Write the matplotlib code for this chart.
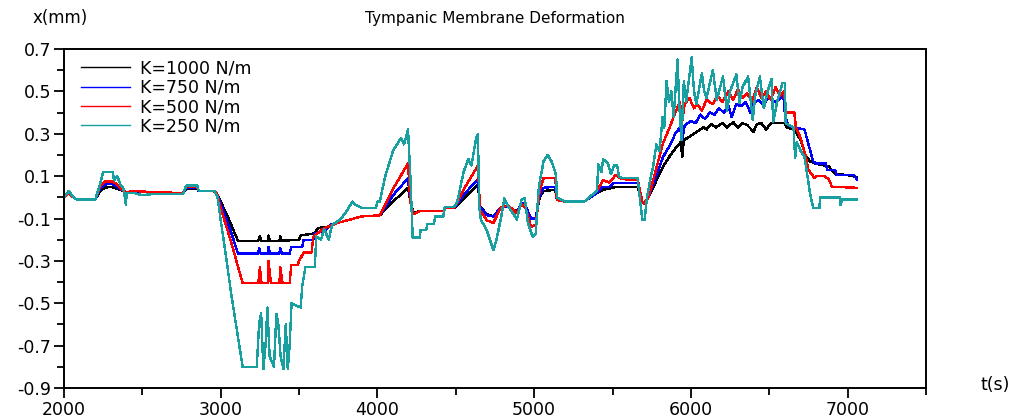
import matplotlib
matplotlib.use('Agg')
import matplotlib.pyplot as plt
from matplotlib.ticker import MultipleLocator

plt.rcParams['font.family'] = 'DejaVu Sans'
plt.rcParams['axes.unicode_minus'] = False

labels = ['K=1000 N/m', 'K=750 N/m', 'K=500 N/m', 'K=250 N/m']
colors = ['black', '#0000ff', '#ff0000', '#18a0a0']

# K = 1000 N/m
t_k1000 = [2000, 2030, 2060, 2080, 2200, 2230, 2260, 2300, 2340, 2380, 2400, 2450, 2500, 2600,
           2760, 2780, 2850, 2860, 2950, 2975, 3000, 3050, 3110, 3240, 3250, 3260, 3300, 3305,
           3315, 3375, 3380, 3390, 3500, 3510, 3600, 3620, 3680, 3750, 3850, 3900, 4015, 4100,
           4195, 4210, 4230, 4270, 4420, 4430, 4490, 4560, 4641, 4655, 4700, 4740, 4790, 4830,
           4870, 4890, 4920, 4945, 4980, 5010, 5035, 5060, 5135, 5145, 5200, 5320, 5400, 5440,
           5530, 5660, 5690, 5700, 5730, 5822, 5870, 5900, 5935, 5945, 5955, 6000, 6040, 6080,
           6100, 6130, 6160, 6200, 6230, 6270, 6300, 6330, 6360, 6400, 6420, 6450, 6480, 6510,
           6560, 6600, 6610, 6660, 6700, 6730, 6760, 6790, 6820, 6880, 6920, 7000, 7060]
x_k1000 = [0.0, 0.02, 0.0, -0.01, -0.01, 0.03, 0.045, 0.05, 0.04, 0.03, 0.02, 0.03, 0.025, 0.02,
           0.02, 0.04, 0.04, 0.03, 0.03, 0.02, -0.02, -0.1, -0.205, -0.205, -0.185, -0.205, -0.205, -0.18,
           -0.205, -0.205, -0.185, -0.205, -0.2, -0.18, -0.17, -0.145, -0.14, -0.12, -0.1, -0.09, -0.085, -0.02,
           0.045, -0.02, -0.075, -0.065, -0.065, -0.05, -0.05, 0.0, 0.06, -0.045, -0.08, -0.09, -0.045, -0.045,
           -0.06, -0.065, -0.03, -0.04, -0.1, -0.1, 0.0, 0.03, 0.035, -0.013, -0.02, -0.02, 0.02, 0.035,
           0.05, 0.05, -0.02, -0.03, 0.0, 0.145, 0.2, 0.23, 0.26, 0.19, 0.27, 0.29, 0.31, 0.33,
           0.32, 0.345, 0.33, 0.35, 0.33, 0.355, 0.33, 0.35, 0.34, 0.31, 0.345, 0.35, 0.32, 0.35,
           0.35, 0.35, 0.33, 0.32, 0.27, 0.2, 0.17, 0.16, 0.155, 0.145, 0.11, 0.105, 0.095]

# K = 750 N/m
t_k750 = [2000, 2030, 2060, 2080, 2200, 2230, 2260, 2300, 2340, 2380, 2400, 2500, 2600,
          2760, 2780, 2850, 2860, 2950, 2975, 3000, 3060, 3110, 3240, 3245, 3255, 3300, 3305,
          3315, 3375, 3380, 3390, 3440, 3450, 3520, 3530, 3590, 3600, 3660, 3700, 3800, 3900,
          4015, 4100, 4195, 4210, 4230, 4270, 4420, 4430, 4490, 4560, 4641, 4655, 4700, 4740,
          4790, 4830, 4870, 4890, 4920, 4945, 4980, 5010, 5035, 5060, 5135, 5145, 5200, 5320,
          5400, 5440, 5480, 5510, 5660, 5690, 5700, 5730, 5822, 5870, 5900, 5930, 5945, 5960,
          6000, 6030, 6060, 6090, 6120, 6150, 6180, 6210, 6240, 6260, 6290, 6320, 6350, 6380,
          6400, 6430, 6460, 6500, 6530, 6560, 6590, 6600, 6620, 6660, 6725, 6780, 6800, 6860,
          6870, 6920, 6930, 7040, 7060]
x_k750 = [0.0, 0.02, 0.0, -0.01, -0.01, 0.04, 0.06, 0.065, 0.05, 0.03, 0.02, 0.025, 0.02,
          0.02, 0.045, 0.045, 0.03, 0.03, 0.02, -0.03, -0.15, -0.265, -0.265, -0.24, -0.265, -0.265, -0.235,
          -0.265, -0.265, -0.24, -0.265, -0.265, -0.235, -0.235, -0.2, -0.2, -0.17, -0.16, -0.13, -0.11, -0.09,
          -0.085, 0.01, 0.09, -0.02, -0.08, -0.065, -0.065, -0.05, -0.05, 0.02, 0.085, -0.045, -0.085, -0.09,
          -0.045, -0.045, -0.06, -0.07, -0.025, -0.04, -0.1, -0.1, 0.01, 0.045, 0.05, -0.013, -0.02, -0.02,
          0.02, 0.05, 0.05, 0.068, 0.068, -0.02, -0.03, 0.0, 0.19, 0.25, 0.3, 0.33, 0.27, 0.34,
          0.36, 0.35, 0.39, 0.37, 0.4, 0.39, 0.42, 0.4, 0.43, 0.38, 0.44, 0.43, 0.45, 0.4,
          0.44, 0.46, 0.44, 0.47, 0.45, 0.46, 0.48, 0.39, 0.34, 0.33, 0.32, 0.17, 0.16, 0.16,
          0.13, 0.13, 0.105, 0.105, 0.085]

# K = 500 N/m
t_k500 = [2000, 2030, 2060, 2080, 2200, 2230, 2260, 2310, 2340, 2380, 2400, 2450, 2550,
          2760, 2780, 2850, 2860, 2950, 2975, 3000, 3070, 3100, 3140, 3240, 3250, 3260, 3300,
          3305, 3320, 3375, 3380, 3395, 3440, 3450, 3490, 3500, 3530, 3580, 3590, 3640, 3680,
          3750, 3850, 3900, 4015, 4100, 4195, 4210, 4230, 4270, 4420, 4430, 4490, 4560, 4641,
          4655, 4700, 4740, 4790, 4830, 4870, 4890, 4920, 4945, 4980, 5010, 5035, 5060, 5135,
          5145, 5200, 5320, 5400, 5440, 5480, 5520, 5550, 5580, 5660, 5690, 5700, 5730, 5822,
          5870, 5900, 5930, 5945, 5960, 5990, 6020, 6040, 6070, 6100, 6140, 6170, 6200, 6240,
          6270, 6300, 6330, 6360, 6390, 6420, 6450, 6480, 6510, 6540, 6570, 6595, 6605, 6660,
          6670, 6700, 6730, 6750, 6790, 6800, 6850, 6880, 6900, 7060]
x_k500 = [0.0, 0.02, 0.0, -0.01, -0.01, 0.05, 0.075, 0.075, 0.06, 0.03, 0.025, 0.03, 0.025,
          0.02, 0.05, 0.05, 0.03, 0.03, 0.02, -0.05, -0.22, -0.3, -0.405, -0.405, -0.33, -0.405, -0.405,
          -0.3, -0.405, -0.405, -0.33, -0.405, -0.405, -0.32, -0.32, -0.3, -0.26, -0.26, -0.19, -0.155, -0.14,
          -0.12, -0.1, -0.09, -0.085, 0.04, 0.16, -0.02, -0.08, -0.065, -0.065, -0.05, -0.05, 0.05, 0.15,
          -0.06, -0.11, -0.12, -0.045, -0.04, -0.06, -0.075, -0.03, -0.05, -0.14, -0.13, 0.03, 0.09, 0.09,
          -0.013, -0.02, -0.02, 0.03, 0.08, 0.07, 0.105, 0.09, 0.085, 0.085, -0.02, -0.03, 0.0, 0.255,
          0.34, 0.4, 0.45, 0.36, 0.44, 0.47, 0.42, 0.44, 0.41, 0.46, 0.44, 0.48, 0.45, 0.5,
          0.46, 0.51, 0.47, 0.49, 0.45, 0.52, 0.47, 0.5, 0.46, 0.52, 0.48, 0.5, 0.4, 0.4,
          0.33, 0.28, 0.2, 0.13, 0.09, 0.1, 0.1, 0.085, 0.05, 0.045]

# K = 250 N/m
t_k250 = [2000, 2030, 2060, 2080, 2200, 2230, 2250, 2310, 2320, 2340, 2360, 2380, 2395, 2400,
          2450, 2500, 2560, 2760, 2780, 2850, 2860, 2960, 2980, 3000, 3030, 3070, 3110, 3140,
          3230, 3245, 3258, 3272, 3286, 3298, 3312, 3340, 3355, 3368, 3382, 3400, 3415, 3428, 3440,
          3452, 3510, 3520, 3540, 3600, 3610, 3640, 3660, 3690, 3710, 3760, 3800, 3840, 3860,
          3900, 3990, 4000, 4015, 4050, 4100, 4150, 4170, 4195, 4210, 4225, 4270, 4275, 4310,
          4320, 4360, 4370, 4420, 4430, 4490, 4510, 4550, 4580, 4600, 4630, 4641, 4650, 4660,
          4700, 4740, 4760, 4790, 4810, 4840, 4870, 4890, 4920, 4940, 4960, 4990, 5010, 5030,
          5060, 5087, 5110, 5130, 5140, 5145, 5200, 5320, 5400, 5410, 5430, 5440, 5470, 5490,
          5510, 5530, 5540, 5560, 5660, 5690, 5705, 5720, 5740, 5760, 5780, 5800, 5820, 5830,
          5845, 5860, 5875, 5890, 5915, 5925, 5940, 5955, 5970, 6005, 6020, 6035, 6070, 6085,
          6100, 6140, 6165, 6205, 6230, 6250, 6290, 6310, 6330, 6365, 6395, 6410, 6440, 6465,
          6490, 6515, 6525, 6550, 6585, 6600, 6605, 6655, 6665, 6675, 6700, 6725, 6760, 6780,
          6820, 6825, 6950, 6955, 6965, 7060]
x_k250 = [0.0, 0.03, 0.0, -0.01, -0.01, 0.06, 0.12, 0.12, 0.08, 0.1, 0.06, 0.04, -0.035, 0.02,
          0.02, 0.01, 0.015, 0.015, 0.055, 0.055, 0.03, 0.03, 0.0, -0.107, -0.26, -0.47, -0.66, -0.8,
          -0.8, -0.6, -0.545, -0.81, -0.7, -0.52, -0.75, -0.8, -0.55, -0.6, -0.75, -0.81, -0.6, -0.81, -0.7,
          -0.5, -0.52, -0.42, -0.33, -0.33, -0.185, -0.2, -0.15, -0.2, -0.13, -0.107, -0.07, -0.02, -0.035,
          -0.05, -0.05, -0.02, -0.02, 0.1, 0.22, 0.28, 0.25, 0.32, 0.1, -0.19, -0.19, -0.155, -0.155,
          -0.125, -0.125, -0.09, -0.09, -0.045, -0.045, -0.02, 0.12, 0.18, 0.15, 0.28, 0.3, -0.05, -0.105,
          -0.16, -0.25, -0.2, -0.09, -0.005, -0.05, -0.08, -0.105, -0.01, -0.005, -0.12, -0.185, -0.17, 0.05,
          0.17, 0.2, 0.17, 0.13, 0.1, 0.0, -0.02, -0.02, 0.03, 0.155, 0.12, 0.18, 0.16, 0.11,
          0.15, 0.15, 0.1, 0.09, 0.09, -0.105, -0.105, 0.0, 0.08, 0.15, 0.25, 0.22, 0.38, 0.33,
          0.55, 0.45, 0.5, 0.38, 0.65, 0.45, 0.27, 0.55, 0.45, 0.66, 0.5, 0.44, 0.585, 0.5,
          0.47, 0.6, 0.46, 0.57, 0.41, 0.5, 0.58, 0.445, 0.52, 0.57, 0.365, 0.48, 0.57, 0.42,
          0.5, 0.56, 0.355, 0.45, 0.54, 0.54, 0.35, 0.33, 0.185, 0.26, 0.22, 0.19, 0.02, -0.05,
          -0.05, 0.0, 0.0, -0.035, -0.01, -0.01]

series_t = [t_k1000, t_k750, t_k500, t_k250]
series_x = [x_k1000, x_k750, x_k500, x_k250]

fig = plt.figure(figsize=(10.17, 4.17), dpi=100)
ax = fig.add_axes([0.0629, 0.0695, 0.8476, 0.813])

for t, x, c, lab in zip(series_t, series_x, colors, labels):
    ax.plot(t, x, color=c, lw=1.0, label=lab, antialiased=False)

ax.set_xlim(2000, 7500)
ax.set_ylim(-0.9, 0.7)
ax.set_xticks([2000, 3000, 4000, 5000, 6000, 7000])
ax.xaxis.set_minor_locator(MultipleLocator(500))
ax.set_yticks([-0.9, -0.7, -0.5, -0.3, -0.1, 0.1, 0.3, 0.5, 0.7])
ax.set_yticklabels(['-0.9', '-0.7', '-0.5', '-0.3', '-0.1', '0.1', '0.3', '0.5', '0.7'])
ax.set_yticks([-0.8, -0.6, -0.4, -0.2, 0.0, 0.2, 0.4, 0.6], minor=True)
ax.tick_params(which='major', length=7, width=1.3, labelsize=12.5, direction='out', pad=2)
ax.tick_params(which='minor', length=5, width=1.3, direction='out')
for s in ax.spines.values():
    s.set_linewidth(1.4)

leg = ax.legend(loc='upper left', bbox_to_anchor=(0.012, 0.99), frameon=False,
                fontsize=12.5, handlelength=2.8, handletextpad=0.6,
                labelspacing=0.08, borderaxespad=0.0)

fig.text(495 / 1017, 1 - 18 / 417, 'Tympanic Membrane Deformation', ha='center',
         va='center', fontsize=11)
fig.text(60 / 1017, 1 - 18 / 417, 'x(mm)', ha='center', va='center', fontsize=12)
fig.text(995 / 1017, 1 - 385 / 417, 't(s)', ha='center', va='center', fontsize=12.5)

fig.savefig('out.png', dpi=100)
